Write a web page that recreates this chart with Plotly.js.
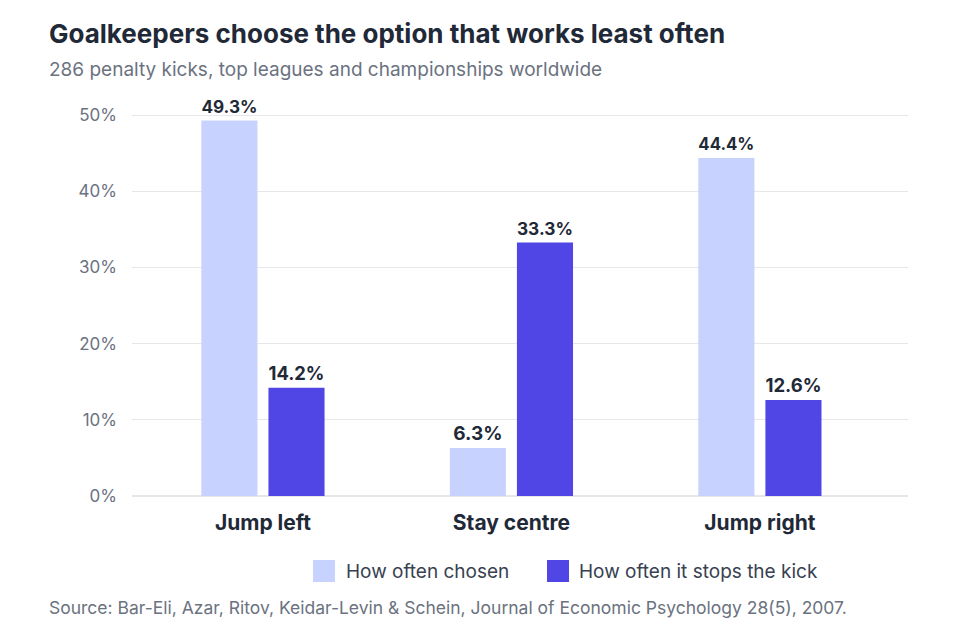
<!DOCTYPE html>
<html>
<head>
<meta charset="utf-8">
<script src="https://cdn.plot.ly/plotly-3.0.1.min.js"></script>
<style>
  html, body { margin: 0; padding: 0; background: #fff; }
  #chart { width: 972px; height: 638px; }
</style>
</head>
<body>
<div id="chart"></div>
<script>
var categories = ['Jump left', 'Stay centre', 'Jump right'];
var chosenValues = [49.3, 6.3, 44.4];
var stopsValues = [14.2, 33.3, 12.6];
var seriesNames = ['How often chosen', 'How often it stops the kick'];
var yTicks = [0, 10, 20, 30, 40, 50];
var yTickLabels = ['0%', '10%', '20%', '30%', '40%', '50%'];

var lightColor = '#c7d2fe';
var darkColor = '#4f46e5';
var textDark = '#1f2937';
var textGrey = '#6b7280';

function barTrace(name, values, color) {
    return {
        type: 'bar',
        name: name,
        x: categories,
        y: values,
        marker: { color: color },
        text: values.map(function (v) { return v.toFixed(1) + '%'; }),
        textposition: 'outside',
        cliponaxis: false,
        textfont: { family: 'Inter', size: 19, color: textDark, weight: 700 },
        hoverinfo: 'skip',
        showlegend: false
    };
}

var data = [
    barTrace(seriesNames[0], chosenValues, lightColor),
    barTrace(seriesNames[1], stopsValues, darkColor)
];

var layout = {
    width: 972,
    height: 638,
    margin: { l: 132, r: 64, t: 100, b: 142 },
    paper_bgcolor: '#fff',
    plot_bgcolor: '#fff',
    font: { family: 'Inter', color: textGrey },
    barmode: 'group',
    bargap: 0.46,
    bargroupgap: 0.164,
    xaxis: {
        type: 'category',
        range: [-0.527, 2.596],
        showgrid: false,
        showline: false,
        zeroline: false,
        ticks: '',
        ticklabelstandoff: 12,
        tickfont: { family: 'Inter', size: 21, color: textDark, weight: 700 },
        fixedrange: true
    },
    yaxis: {
        range: [0, 52],
        tickvals: yTicks,
        ticktext: yTickLabels,
        showgrid: true,
        gridcolor: '#e5e7eb',
        gridwidth: 1,
        zeroline: true,
        zerolinecolor: '#e5e7eb',
        zerolinewidth: 2,
        showline: false,
        ticks: '',
        ticklabelstandoff: 14,
        tickfont: { family: 'Inter', size: 17, color: textGrey },
        fixedrange: true
    },
    shapes: [
        { type: 'rect', xref: 'paper', yref: 'paper',
          x0: (313 - 132) / 776, x1: (335 - 132) / 776,
          y0: (496 - 582) / 396, y1: (496 - 560) / 396,
          fillcolor: lightColor, line: { width: 0 } },
        { type: 'rect', xref: 'paper', yref: 'paper',
          x0: (547 - 132) / 776, x1: (569 - 132) / 776,
          y0: (496 - 582) / 396, y1: (496 - 560) / 396,
          fillcolor: darkColor, line: { width: 0 } }
    ],
    annotations: [
        { text: 'Goalkeepers choose the option that works least often',
          xref: 'paper', yref: 'paper', x: -85 / 776, y: (496 - 33) / 396,
          xanchor: 'left', yanchor: 'middle', showarrow: false,
          font: { family: 'Inter', size: 26, color: textDark, weight: 700 } },
        { text: '286 penalty kicks, top leagues and championships worldwide',
          xref: 'paper', yref: 'paper', x: -85 / 776, y: (496 - 69) / 396,
          xanchor: 'left', yanchor: 'middle', showarrow: false,
          font: { family: 'Inter', size: 19, color: textGrey } },
        { text: seriesNames[0],
          xref: 'paper', yref: 'paper', x: (344 - 132) / 776, y: (496 - 571) / 396,
          xanchor: 'left', yanchor: 'middle', showarrow: false,
          font: { family: 'Inter', size: 19, color: '#374151' } },
        { text: seriesNames[1],
          xref: 'paper', yref: 'paper', x: (577 - 132) / 776, y: (496 - 571) / 396,
          xanchor: 'left', yanchor: 'middle', showarrow: false,
          font: { family: 'Inter', size: 19, color: '#374151' } },
        { text: 'Source: Bar-Eli, Azar, Ritov, Keidar-Levin & Schein, Journal of Economic Psychology 28(5), 2007.',
          xref: 'paper', yref: 'paper', x: -85 / 776, y: (496 - 607) / 396,
          xanchor: 'left', yanchor: 'middle', showarrow: false,
          font: { family: 'Inter', size: 17.5, color: textGrey } }
    ]
};

Plotly.newPlot('chart', data, layout, { displayModeBar: false, staticPlot: true });
</script>
</body>
</html>
